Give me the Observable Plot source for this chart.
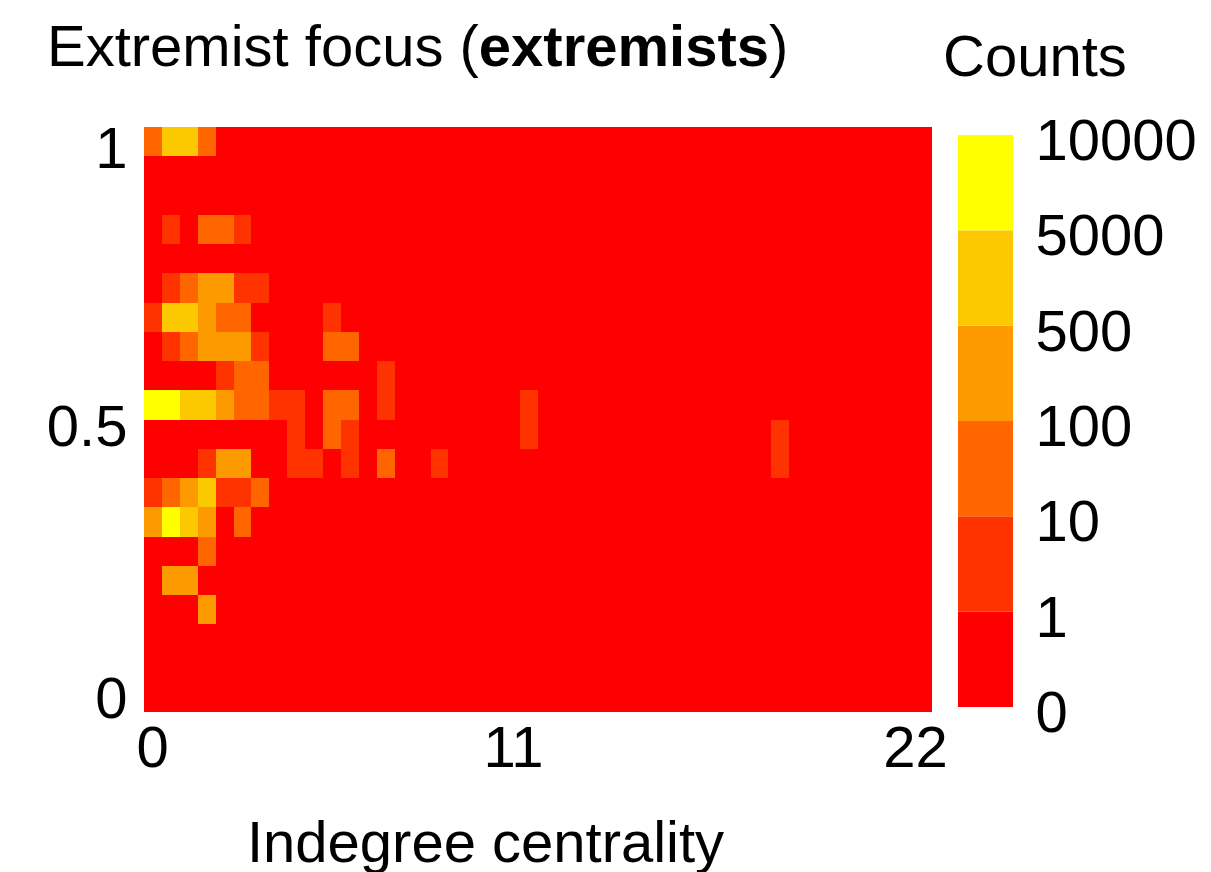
<!DOCTYPE html>
<html>
<head>
<meta charset="utf-8">
<script src="https://cdn.jsdelivr.net/npm/d3@7"></script>
<script src="https://cdn.jsdelivr.net/npm/@observablehq/plot@0.6"></script>
<style>
  html, body { margin: 0; padding: 0; background: #fff; }
  #figure { position: relative; width: 1211px; height: 872px; font-family: "Liberation Sans", Arial, Helvetica, sans-serif; color: #000; }
  .label { position: absolute; font-size: 58px; line-height: 58px; white-space: nowrap; }
  #title { left: 47px; top: 17px; }
  #counts { left: 943px; top: 27px; }
  #main, #legend { position: absolute; }
  #main { left: 0; top: 0; }
  #legend { left: 958px; top: 125px; }
</style>
</head>
<body>
<div id="figure">
  <div id="title" class="label">Extremist focus (<b>extremists</b>)</div>
  <div id="counts" class="label">Counts</div>
  <div id="main"></div>
  <div id="legend"></div>
</div>
<script>
// Histogram bins: indegree in steps of 0.5 (0–22), extremist focus in steps of 0.05 (0–1)
const binWidth = 0.5;
const binHeight = 0.05;
const indegreeMax = 22;

// Non-empty bins: lower edge of indegree bin, lower edge of focus bin, count
const indegree = [
  0, 0.5, 1.0, 1.5,
  0.5, 1.5, 2.0, 2.5,
  0.5, 1.0, 1.5, 2.0, 2.5, 3.0,
  0, 0.5, 1.0, 1.5, 2.0, 2.5, 5.0,
  0.5, 1.0, 1.5, 2.0, 2.5, 3.0, 5.0, 5.5,
  2.0, 2.5, 3.0, 6.5,
  0, 0.5, 1.0, 1.5, 2.0, 2.5, 3.0, 3.5, 4.0, 5.0, 5.5, 6.5, 10.5,
  4.0, 5.0, 5.5, 10.5, 17.5,
  1.5, 2.0, 2.5, 4.0, 4.5, 5.5, 6.5, 8.0, 17.5,
  0, 0.5, 1.0, 1.5, 2.0, 2.5, 3.0,
  0, 0.5, 1.0, 1.5, 2.5,
  1.5,
  0.5, 1.0,
  1.5
];
const focus = [
  0.95, 0.95, 0.95, 0.95,
  0.80, 0.80, 0.80, 0.80,
  0.70, 0.70, 0.70, 0.70, 0.70, 0.70,
  0.65, 0.65, 0.65, 0.65, 0.65, 0.65, 0.65,
  0.60, 0.60, 0.60, 0.60, 0.60, 0.60, 0.60, 0.60,
  0.55, 0.55, 0.55, 0.55,
  0.50, 0.50, 0.50, 0.50, 0.50, 0.50, 0.50, 0.50, 0.50, 0.50, 0.50, 0.50, 0.50,
  0.45, 0.45, 0.45, 0.45, 0.45,
  0.40, 0.40, 0.40, 0.40, 0.40, 0.40, 0.40, 0.40, 0.40,
  0.35, 0.35, 0.35, 0.35, 0.35, 0.35, 0.35,
  0.30, 0.30, 0.30, 0.30, 0.30,
  0.25,
  0.20, 0.20,
  0.15
];
const counts = [
  30, 1200, 900, 25,
  4, 18, 12, 3,
  6, 45, 180, 120, 7, 2,
  8, 2100, 1500, 260, 60, 35, 2,
  5, 80, 310, 220, 140, 6, 14, 11,
  9, 40, 22, 1,
  9200, 7400, 3800, 1100, 420, 85, 48, 8, 5, 27, 16, 3, 1,
  4, 19, 6, 1, 1,
  7, 350, 160, 3, 2, 4, 10, 1, 1,
  9, 70, 450, 2600, 8, 5, 13,
  280, 8600, 4200, 390, 12,
  33,
  130, 110,
  105
];

// Colour classes and their boundaries
const thresholds = [1, 10, 100, 500, 5000];
const colors = ["#ff0000", "#ff3300", "#ff6600", "#fc9a00", "#fcc800", "#ffff00"];
const legendTickLabels = ["0", "1", "10", "100", "500", "5000", "10000"];
const classLowerBounds = [0, 1, 10, 100, 500, 5000];

const xTicks = [0, 11, 22];
const yTicks = [0, 0.5, 1];
const xLabel = "Indegree centrality";

// Full grid of bins, empty bins count 0
const key = (x, y) => `${Math.round(x / binWidth)}|${Math.round(y / binHeight)}`;
const lookup = new Map(indegree.map((x, i) => [key(x, focus[i]), counts[i]]));
const cells = [];
for (let i = 0; i < indegreeMax / binWidth; ++i) {
  for (let j = 0; j < Math.round(1 / binHeight); ++j) {
    const x = i * binWidth, y = j * binHeight;
    cells.push({x1: x, x2: x + binWidth, y1: y, y2: y + binHeight, count: lookup.get(key(x, y)) ?? 0});
  }
}

const colorScale = {type: "threshold", domain: thresholds, range: colors};
const font = {fontFamily: "'Liberation Sans', Arial, Helvetica, sans-serif", fontSize: "58px", color: "#000", background: "transparent", overflow: "visible"};

// per-tick label nudges, following the placement in the published figure
const xNudge = {0: 8, 11: -25, 22: -17};
const yNudge = {0: -13, 0.5: 7, 1: 22};

const main = Plot.plot({
  width: 1211,
  height: 872,
  marginLeft: 144,
  marginRight: 279,
  marginTop: 127,
  marginBottom: 160,
  x: {domain: [0, indegreeMax], axis: null},
  y: {domain: [0, 1], axis: null},
  color: colorScale,
  style: font,
  marks: [
    Plot.rect(cells, {x1: "x1", x2: "x2", y1: "y1", y2: "y2", fill: "count", shapeRendering: "crispEdges"}),
    ...xTicks.map(t => Plot.axisX({ticks: [t], tickSize: 0, tickPadding: 13, dx: xNudge[t], label: null, tickFormat: d => String(d)})),
    ...yTicks.map(t => Plot.axisY({ticks: [t], tickSize: 0, tickPadding: 17, dy: yNudge[t], label: null, tickFormat: d => String(d)})),
    Plot.text([xLabel], {text: d => d, frameAnchor: "bottom", lineAnchor: "top", dy: 108, dx: -53, fontSize: 58})
  ]
});
document.getElementById("main").append(main);

// Vertical colour key: one block per class, boundaries labelled
const legendRows = classLowerBounds.map((v, i) => ({i, v}));
const legend = Plot.plot({
  width: 253,
  height: 600,
  marginLeft: 0,
  marginRight: 198,
  marginTop: 10,
  marginBottom: 18,
  x: {domain: [0, 1], axis: null},
  y: {domain: [0, classLowerBounds.length], axis: null},
  color: colorScale,
  style: font,
  marks: [
    Plot.rect(legendRows, {x1: 0, x2: 1, y1: "i", y2: d => d.i + 1, fill: "v"}),
    Plot.axisY({anchor: "right", ticks: d3.range(legendTickLabels.length), tickSize: 0, tickPadding: 22, dy: 6, label: null, tickFormat: i => legendTickLabels[i]})
  ]
});
document.getElementById("legend").append(legend);
</script>
</body>
</html>
